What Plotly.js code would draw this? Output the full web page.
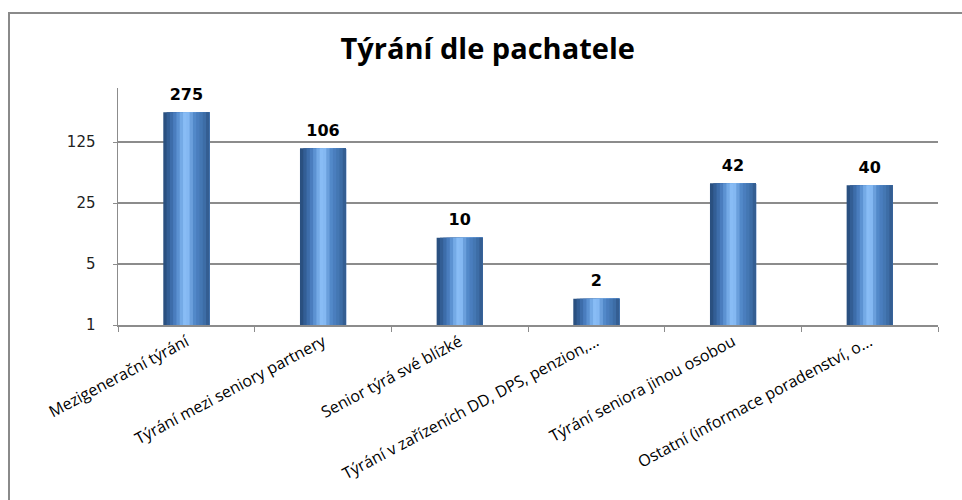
<!DOCTYPE html>
<html>
<head>
<meta charset="utf-8">
<script src="https://cdn.plot.ly/plotly-3.0.1.min.js"></script>
<style>
  html, body { margin: 0; padding: 0; background: #fff; }
  #chart { width: 962px; height: 500px; }
</style>
</head>
<body>
<div id="chart"></div>
<script>
// ---- data ----
var categories = [
  "Mezigenerační týrání",
  "Týrání mezi seniory partnery",
  "Senior týrá své blízké",
  "Týrání v zařízeních DD, DPS, penzion,...",
  "Týrání seniora jinou osobou",
  "Ostatní (informace poradenství, o..."
];
var values = [275, 106, 10, 2, 42, 40];
var yTickValues = [1, 5, 25, 125];
var yTickLabels = ["1", "5", "25", "125"];
var chartTitle = "Týrání dle pachatele";

// ---- styling: cylinder-like gradient emulated by overlapping strips ----
var stripColors = ["#2A5080", "#335E95", "#3D6DAA", "#4A7DBE", "#5C92D2", "#74AAE6", "#88BCF5",
                   "#84B8F2", "#6A9FDC", "#5289C9", "#4A7EBE", "#4477B3", "#3D6DA6", "#345E92"];
var barW = 0.337;
var N = stripColors.length;
var traces = [];
for (var i = 0; i < N; i++) {
  traces.push({
    type: "bar",
    x: categories,
    y: values,
    offset: -barW / 2 + i * barW / N,
    width: barW - i * barW / N,
    marker: { color: stripColors[i], line: { width: 0 } },
    hoverinfo: "skip",
    showlegend: false
  });
}
traces.push({
  type: "scatter",
  mode: "markers+text",
  x: categories,
  y: values,
  text: values.map(String),
  textposition: "top center",
  marker: { size: 12, color: "rgba(0,0,0,0)" },
  textfont: { family: "DejaVu Sans", size: 16, color: "#000", weight: 700 },
  hoverinfo: "skip",
  showlegend: false,
  cliponaxis: false
});

var L = 118, R = 24, T = 88, B = 175;
var pw = 962 - L - R, ph = 500 - T - B;

var layout = {
  width: 962,
  height: 500,
  margin: { l: L, r: R, t: T, b: B, pad: 0 },
  paper_bgcolor: "#ffffff",
  plot_bgcolor: "#ffffff",
  barmode: "overlay",
  showlegend: false,
  title: {
    text: chartTitle,
    font: { family: "Open Sans", size: 29, color: "#000", weight: 700 },
    x: 0.507, xanchor: "center",
    y: 1 - 49 / 500, yanchor: "middle"
  },
  xaxis: {
    type: "category",
    tickangle: -28,
    tickson: "boundaries",
    ticks: "outside",
    ticklen: 5,
    tickcolor: "#8c8c8c",
    showline: true,
    linecolor: "#8c8c8c",
    linewidth: 1.5,
    showgrid: false,
    tickfont: { family: "Open Sans", size: 16, color: "#000" },
    fixedrange: true
  },
  yaxis: {
    type: "log",
    range: [0, 2.716],
    tickvals: yTickValues,
    ticktext: yTickLabels,
    ticks: "outside",
    ticklen: 4,
    tickcolor: "#8c8c8c",
    ticklabelstandoff: 14,
    showline: true,
    linecolor: "#8c8c8c",
    linewidth: 1.5,
    showgrid: true,
    gridcolor: "#8c8c8c",
    gridwidth: 1.2,
    zeroline: false,
    tickfont: { family: "DejaVu Sans", size: 15, color: "#222" },
    fixedrange: true
  },
  shapes: [{
    type: "rect",
    xref: "paper", yref: "paper",
    x0: (9 - L) / pw, x1: (980 - L) / pw,
    y0: (325 - 520) / ph, y1: (325 - 13) / ph,
    line: { color: "#8a8a8a", width: 2 },
    fillcolor: "rgba(0,0,0,0)",
    layer: "below"
  }]
};

Plotly.newPlot("chart", traces, layout, { displayModeBar: false, staticPlot: true });
</script>
</body>
</html>
